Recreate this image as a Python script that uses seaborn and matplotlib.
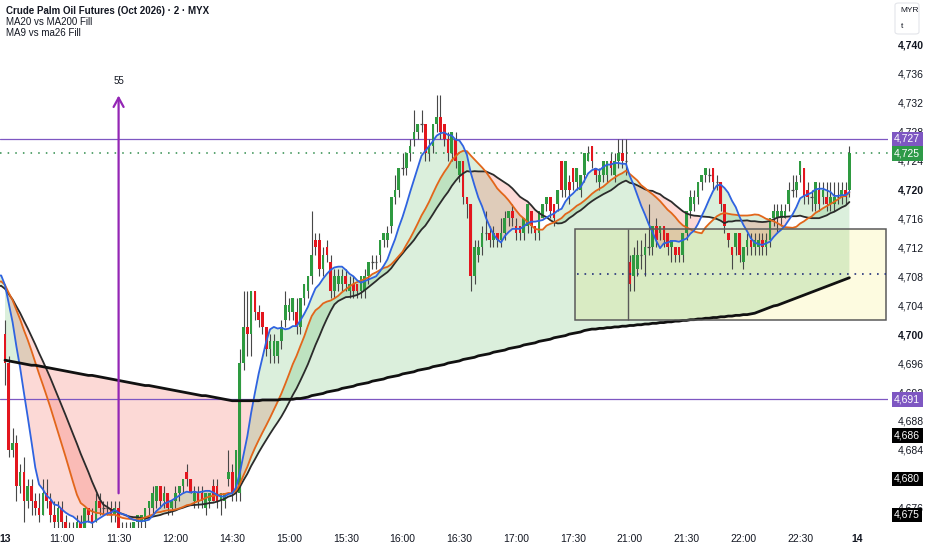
import numpy as np
import pandas as pd
import matplotlib
matplotlib.use("Agg")
import matplotlib.pyplot as plt
import matplotlib.transforms as mtransforms
from matplotlib.patches import Rectangle, FancyBboxPatch
import seaborn as sns

# 2-minute bars of the 13th: 10:30-12:30, 14:30-18:00, 21:00-23:00 (breaks removed)
opens = [
    4700, 4696, 4684, 4685, 4679, 4681, 4677, 4679, 4677, 4676,
    4675, 4678, 4677, 4675, 4674, 4676, 4674, 4673, 4673, 4673,
    4674, 4673, 4676, 4675, 4674, 4677, 4676, 4676, 4676, 4675,
    4676, 4673, 4673, 4673, 4673, 4674, 4674, 4674, 4676, 4676,
    4677, 4679, 4677, 4678, 4676, 4677, 4678, 4679, 4681, 4680,
    4677, 4678, 4678, 4676, 4677, 4679, 4679, 4677, 4677, 4680,
    4681, 4678, 4678, 4696, 4701, 4700, 4706, 4703, 4703, 4701,
    4698, 4697, 4697, 4699, 4702, 4703, 4703, 4703, 4701, 4705,
    4706, 4708, 4713, 4713, 4709, 4712, 4710, 4706, 4707, 4707,
    4708, 4706, 4707, 4707, 4706, 4706, 4708, 4710, 4710, 4711,
    4713, 4713, 4715, 4719, 4720, 4723, 4723, 4725, 4727, 4728,
    4729, 4729, 4725, 4726, 4729, 4730, 4729, 4727, 4725, 4727,
    4722, 4724, 4719, 4718, 4708, 4711, 4712, 4714, 4714, 4713,
    4714, 4713, 4714, 4716, 4717, 4715, 4715, 4714, 4715, 4717,
    4715, 4714, 4716, 4718, 4719, 4718, 4718, 4724, 4720, 4721,
    4723, 4721, 4720, 4722, 4724, 4726, 4723, 4721, 4722, 4722,
    4724, 4722, 4724, 4725, 4724, 4710, 4708, 4709, 4711, 4711,
    4712, 4712, 4715, 4714, 4715, 4714, 4712, 4712, 4712, 4711,
    4714, 4717, 4718, 4719, 4721, 4722, 4722, 4723, 4721, 4721,
    4718, 4714, 4712, 4712, 4714, 4710, 4712, 4713, 4712, 4712,
    4713, 4712, 4713, 4716, 4716, 4716, 4716, 4718, 4720, 4720,
    4722, 4723, 4720, 4719, 4718, 4720, 4719, 4719, 4718, 4718,
    4719, 4719, 4720, 4720,
]
highs = [
    4702, 4697, 4687, 4686, 4682, 4683, 4680, 4680, 4678, 4678,
    4680, 4680, 4678, 4677, 4677, 4677, 4675, 4674, 4674, 4675,
    4675, 4676, 4676, 4676, 4678, 4678, 4677, 4677, 4677, 4677,
    4677, 4674, 4674, 4674, 4674, 4675, 4675, 4676, 4677, 4679,
    4679, 4679, 4679, 4678, 4677, 4679, 4679, 4680, 4682, 4680,
    4679, 4679, 4679, 4678, 4678, 4680, 4680, 4678, 4678, 4684,
    4682, 4684, 4698, 4706, 4706, 4706, 4706, 4704, 4703, 4701,
    4700, 4700, 4699, 4702, 4706, 4705, 4705, 4705, 4705, 4707,
    4708, 4717, 4714, 4714, 4712, 4713, 4711, 4709, 4709, 4709,
    4709, 4708, 4708, 4707, 4708, 4709, 4710, 4711, 4711, 4713,
    4714, 4715, 4719, 4722, 4723, 4725, 4725, 4727, 4731, 4729,
    4731, 4729, 4727, 4729, 4733, 4733, 4729, 4728, 4728, 4728,
    4724, 4724, 4719, 4718, 4713, 4713, 4715, 4717, 4715, 4715,
    4714, 4716, 4717, 4717, 4718, 4716, 4715, 4716, 4718, 4717,
    4715, 4717, 4718, 4719, 4719, 4718, 4720, 4724, 4724, 4722,
    4723, 4723, 4722, 4725, 4726, 4726, 4723, 4723, 4724, 4724,
    4725, 4725, 4727, 4727, 4727, 4711, 4712, 4713, 4713, 4714,
    4718, 4715, 4716, 4715, 4715, 4714, 4713, 4712, 4712, 4714,
    4717, 4720, 4720, 4721, 4722, 4723, 4723, 4723, 4722, 4721,
    4718, 4714, 4712, 4714, 4714, 4712, 4714, 4714, 4714, 4714,
    4714, 4714, 4716, 4718, 4718, 4718, 4718, 4721, 4722, 4722,
    4724, 4723, 4721, 4720, 4721, 4721, 4721, 4721, 4721, 4721,
    4721, 4721, 4721, 4726,
]
lows = [
    4693, 4683, 4683, 4677, 4678, 4674, 4676, 4675, 4675, 4674,
    4675, 4676, 4674, 4673, 4673, 4673, 4672, 4672, 4672, 4672,
    4672, 4672, 4674, 4673, 4674, 4675, 4675, 4675, 4674, 4674,
    4672, 4672, 4672, 4672, 4672, 4673, 4673, 4673, 4675, 4675,
    4676, 4676, 4676, 4675, 4675, 4676, 4677, 4678, 4679, 4678,
    4676, 4676, 4676, 4675, 4676, 4677, 4676, 4675, 4676, 4679,
    4677, 4677, 4677, 4695, 4697, 4697, 4702, 4701, 4700, 4697,
    4696, 4696, 4696, 4698, 4701, 4702, 4702, 4700, 4700, 4704,
    4705, 4707, 4711, 4708, 4708, 4710, 4705, 4705, 4706, 4706,
    4706, 4705, 4705, 4705, 4705, 4705, 4707, 4709, 4709, 4710,
    4712, 4712, 4714, 4718, 4719, 4722, 4722, 4724, 4726, 4727,
    4728, 4724, 4724, 4725, 4728, 4727, 4726, 4724, 4724, 4723,
    4721, 4718, 4716, 4706, 4707, 4710, 4711, 4713, 4712, 4712,
    4712, 4712, 4713, 4715, 4715, 4713, 4713, 4713, 4714, 4714,
    4713, 4713, 4716, 4717, 4716, 4715, 4717, 4719, 4719, 4718,
    4720, 4720, 4719, 4721, 4724, 4723, 4721, 4720, 4721, 4721,
    4722, 4721, 4723, 4723, 4722, 4706, 4706, 4708, 4709, 4708,
    4711, 4711, 4712, 4713, 4712, 4711, 4710, 4710, 4710, 4710,
    4713, 4716, 4717, 4718, 4720, 4721, 4721, 4720, 4720, 4717,
    4714, 4712, 4709, 4711, 4710, 4709, 4711, 4711, 4711, 4711,
    4711, 4711, 4712, 4715, 4714, 4715, 4716, 4717, 4719, 4719,
    4721, 4718, 4718, 4717, 4717, 4717, 4718, 4717, 4717, 4717,
    4718, 4718, 4718, 4719,
]
closes = [
    4696, 4684, 4685, 4679, 4681, 4677, 4679, 4677, 4676, 4675,
    4678, 4677, 4675, 4674, 4676, 4674, 4673, 4673, 4673, 4674,
    4673, 4676, 4675, 4674, 4677, 4676, 4676, 4676, 4675, 4676,
    4673, 4673, 4673, 4673, 4674, 4675, 4675, 4676, 4677, 4678,
    4679, 4677, 4678, 4676, 4677, 4678, 4679, 4680, 4680, 4678,
    4678, 4677, 4677, 4678, 4678, 4677, 4677, 4678, 4678, 4681,
    4678, 4684, 4696, 4701, 4700, 4706, 4703, 4702, 4701, 4698,
    4699, 4699, 4699, 4701, 4704, 4704, 4705, 4701, 4705, 4707,
    4708, 4711, 4712, 4709, 4711, 4711, 4706, 4708, 4708, 4708,
    4707, 4707, 4706, 4706, 4708, 4708, 4710, 4710, 4710, 4713,
    4714, 4714, 4719, 4720, 4723, 4723, 4725, 4726, 4728, 4729,
    4729, 4725, 4726, 4729, 4730, 4728, 4727, 4725, 4728, 4724,
    4724, 4719, 4718, 4708, 4712, 4712, 4714, 4714, 4713, 4714,
    4713, 4714, 4716, 4717, 4716, 4714, 4714, 4716, 4718, 4715,
    4714, 4717, 4718, 4719, 4717, 4716, 4720, 4720, 4724, 4720,
    4721, 4723, 4722, 4725, 4725, 4724, 4722, 4722, 4724, 4724,
    4723, 4724, 4725, 4724, 4724, 4707, 4711, 4711, 4711, 4712,
    4712, 4715, 4713, 4715, 4713, 4712, 4713, 4711, 4711, 4714,
    4717, 4719, 4719, 4721, 4722, 4723, 4722, 4721, 4721, 4718,
    4715, 4713, 4711, 4714, 4711, 4712, 4713, 4712, 4713, 4713,
    4712, 4713, 4716, 4717, 4717, 4717, 4717, 4720, 4720, 4721,
    4724, 4719, 4719, 4719, 4721, 4718, 4720, 4718, 4719, 4719,
    4719, 4720, 4719, 4725,
]
# closes of the previous session, only used to seed the short averages
prev_closes = [4703, 4704, 4704, 4705, 4705, 4706, 4706, 4705, 4706, 4707,
               4707, 4706, 4707, 4708, 4707, 4708, 4708, 4707, 4708, 4709,
               4708, 4708, 4709, 4708, 4708]
# MA200 (needs history that is not on screen)
ma200 = [
    4696.4, 4696.3, 4696.2, 4696.1, 4696.0, 4695.9, 4695.8, 4695.7, 4695.7, 4695.6,
    4695.5, 4695.4, 4695.3, 4695.2, 4695.1, 4695.0, 4694.9, 4694.8, 4694.7, 4694.6,
    4694.5, 4694.4, 4694.3, 4694.3, 4694.2, 4694.1, 4694.0, 4693.9, 4693.8, 4693.7,
    4693.6, 4693.5, 4693.4, 4693.3, 4693.2, 4693.1, 4693.0, 4692.9, 4692.9, 4692.8,
    4692.7, 4692.6, 4692.5, 4692.4, 4692.3, 4692.2, 4692.1, 4692.0, 4691.9, 4691.8,
    4691.7, 4691.6, 4691.5, 4691.5, 4691.4, 4691.3, 4691.2, 4691.1, 4691.0, 4690.9,
    4690.8, 4690.8, 4690.8, 4690.8, 4690.8, 4690.8, 4690.8, 4690.8, 4690.9, 4690.9,
    4690.9, 4690.9, 4690.9, 4691.0, 4691.0, 4691.0, 4691.0, 4691.1, 4691.1, 4691.2,
    4691.3, 4691.5, 4691.6, 4691.7, 4691.8, 4692.0, 4692.1, 4692.2, 4692.3, 4692.5,
    4692.6, 4692.7, 4692.8, 4693.0, 4693.1, 4693.2, 4693.3, 4693.5, 4693.6, 4693.7,
    4693.8, 4694.0, 4694.1, 4694.2, 4694.3, 4694.5, 4694.6, 4694.7, 4694.8, 4695.0,
    4695.1, 4695.2, 4695.3, 4695.5, 4695.6, 4695.7, 4695.8, 4696.0, 4696.1, 4696.2,
    4696.3, 4696.5, 4696.6, 4696.7, 4696.8, 4697.0, 4697.1, 4697.2, 4697.3, 4697.5,
    4697.6, 4697.7, 4697.8, 4698.0, 4698.1, 4698.2, 4698.3, 4698.5, 4698.6, 4698.7,
    4698.8, 4699.0, 4699.1, 4699.2, 4699.3, 4699.5, 4699.6, 4699.7, 4699.8, 4700.0,
    4700.1, 4700.2, 4700.3, 4700.5, 4700.6, 4700.7, 4700.7, 4700.8, 4700.8, 4700.9,
    4700.9, 4701.0, 4701.0, 4701.1, 4701.1, 4701.2, 4701.2, 4701.3, 4701.3, 4701.4,
    4701.4, 4701.5, 4701.5, 4701.6, 4701.6, 4701.7, 4701.7, 4701.8, 4701.8, 4701.9,
    4701.9, 4702.0, 4702.0, 4702.1, 4702.1, 4702.2, 4702.2, 4702.3, 4702.3, 4702.4,
    4702.4, 4702.5, 4702.5, 4702.6, 4702.6, 4702.7, 4702.7, 4702.8, 4702.9, 4703.1,
    4703.3, 4703.5, 4703.7, 4703.9, 4704.0, 4704.2, 4704.4, 4704.6, 4704.8, 4705.0,
    4705.2, 4705.4, 4705.6, 4705.8, 4706.0, 4706.2, 4706.4, 4706.6, 4706.8, 4707.0,
    4707.2, 4707.4, 4707.6, 4707.8,
]

tick_bars = [0, 15, 30, 45, 60, 75, 90, 105, 120, 135, 150, 165, 180, 195, 210, 225]
tick_labels = ["13", "11:00", "11:30", "12:00", "14:30", "15:00", "15:30", "16:00",
               "16:30", "17:00", "17:30", "21:00", "21:30", "22:00", "22:30", "14"]
price_ticks = list(range(4676, 4741, 4))

level_prices = [4727, 4691]
last_price = 4725
scale_marks = [4686, 4680, 4675]

# drawings
measure_bar, measure_from, measure_to = 30, 4678, 4733
box_bars = (150.5, 232.6)
box_prices = (4702.0, 4714.6)
box_split_bar = 164.5

GREEN, RED = "#2e9a40", "#e3161e"
FILL_UP, FILL_DN = "#4caf50", "#f44336"
PURPLE = "#7e57c2"
INK = "#131722"

sns.set_theme(style="white")
plt.rcParams["font.family"] = ["Liberation Sans", "DejaVu Sans"]

fig = plt.figure(figsize=(9.32, 5.5), dpi=100)
ax = fig.add_axes([0, 22 / 550, 888 / 932, 528 / 550])

x = np.arange(len(closes))
o, h, l, c = (np.array(v, dtype=float) for v in (opens, highs, lows, closes))

# moving averages
all_close = pd.Series(prev_closes + closes, dtype=float)
x_all = np.arange(-len(prev_closes), len(closes))
ma9 = all_close.rolling(9, min_periods=1).mean().values
ma20 = all_close.rolling(20, min_periods=1).mean().values
ma26 = all_close.rolling(26, min_periods=1).mean().values
m200 = np.array(ma200)
ma20_today = ma20[len(prev_closes):]

# fills
ax.fill_between(x, ma20_today, m200, where=ma20_today >= m200, interpolate=True,
                color=FILL_UP, alpha=0.2, lw=0, zorder=1)
ax.fill_between(x, ma20_today, m200, where=ma20_today < m200, interpolate=True,
                color=FILL_DN, alpha=0.2, lw=0, zorder=1)
ax.fill_between(x_all, ma9, ma26, where=ma9 >= ma26, interpolate=True,
                color=FILL_UP, alpha=0.2, lw=0, zorder=1)
ax.fill_between(x_all, ma9, ma26, where=ma9 < ma26, interpolate=True,
                color=FILL_DN, alpha=0.2, lw=0, zorder=1)

# range box
ax.add_patch(Rectangle((box_bars[0], box_prices[0]), box_bars[1] - box_bars[0],
                       box_prices[1] - box_prices[0], facecolor="#fdfbe0",
                       edgecolor="none", zorder=0.5))
ax.add_patch(Rectangle((box_bars[0], box_prices[0]), box_bars[1] - box_bars[0],
                       box_prices[1] - box_prices[0], facecolor="none",
                       edgecolor="#5a5a5a", lw=1.1, zorder=6))
ax.hlines(np.mean(box_prices), box_bars[0] + 0.5, box_bars[1], colors="#23307a",
          linestyles=(0, (1, 3.5)), lw=1.2, zorder=6)
ax.vlines(box_split_bar, box_prices[0], box_prices[1], colors="#5a5a5a", lw=1.0, zorder=6)

# horizontal levels
for lv in level_prices:
    ax.axhline(lv, color=PURPLE, lw=0.9, zorder=2)
ax.axhline(last_price, color="#2e8b4a", lw=1.1, ls=(0, (1, 4)), zorder=2)

# candles
ax.vlines(x, l, h, colors="#474747", lw=0.8, zorder=3)
up = c > o
dn = c < o
flat = c == o
ax.bar(x[up], (c - o)[up], bottom=o[up], width=0.7, color=GREEN, lw=0, zorder=4)
ax.bar(x[dn], (o - c)[dn], bottom=c[dn], width=0.7, color=RED, lw=0, zorder=4)
ax.hlines(c[flat], x[flat] - 0.35, x[flat] + 0.35, colors="#474747", lw=0.9, zorder=4)

# MA lines
keep = x_all >= -2
sns.lineplot(x=x_all[keep], y=ma26[keep], color="#2b2b2b", lw=1.3, ax=ax, zorder=5)
sns.lineplot(x=x_all[keep], y=ma20[keep], color="#e2661b", lw=1.3, ax=ax, zorder=5)
sns.lineplot(x=x_all[keep], y=ma9[keep], color="#2f63e0", lw=1.3, ax=ax, zorder=5)
sns.lineplot(x=x, y=m200, color="#111111", lw=2.0, ax=ax, zorder=5)

# measure arrow
ax.annotate("", xy=(measure_bar, measure_to), xytext=(measure_bar, measure_from),
            arrowprops=dict(arrowstyle="->,head_length=0.55,head_width=0.3",
                            color="#9426b5", lw=1.6, shrinkA=0, shrinkB=0), zorder=7)
ax.text(measure_bar, measure_to + 2.0, str(measure_to - measure_from), ha="center",
        va="center", fontsize=7, color=INK, zorder=7)

# axes
ax.set_xlim(-1.32, 233.2)
ax.set_ylim(4673.2, 4746.2)
for s in ax.spines.values():
    s.set_visible(False)
ax.grid(False)
ax.set_xlabel("")
ax.set_ylabel("")
ax.set_xticks(tick_bars)
ax.set_xticklabels(tick_labels)
ax.tick_params(axis="x", length=0, pad=4, labelsize=7.5, colors=INK)
for t in ax.get_xticklabels():
    if ":" not in t.get_text():
        t.set_fontweight("bold")

# price scale: plain ticks, skipping those fully hidden under a tag
tags = [(lv, PURPLE) for lv in level_prices] + [(last_price, "#2e9a48")] + \
       [(m, "#000000") for m in scale_marks]
hidden = {v for v, _ in tags}
ax.yaxis.tick_right()
ax.set_yticks(price_ticks)
ax.set_yticklabels(["" if v in hidden else f"{v:,}" for v in price_ticks])
ax.tick_params(axis="y", length=0, pad=7, labelsize=7.5, colors=INK)
for t in ax.get_yticklabels():
    if t.get_text() in ("4,740", "4,720", "4,700"):
        t.set_fontweight("bold")

tr = mtransforms.blended_transform_factory(ax.transAxes, ax.transData)
for val, col in tags:
    ax.text(1.007, val, f"{val:,}", transform=tr, ha="left", va="center",
            fontsize=7.5, color="white", clip_on=False, zorder=20,
            bbox=dict(boxstyle="square,pad=0.22", fc=col, ec="none"))

# header
fig.text(6 / 932, 1 - 11 / 550, "Crude Palm Oil Futures (Oct 2026) · 2 · MYX",
         fontsize=7, fontweight="bold", color=INK, va="center")
fig.text(6 / 932, 1 - 22 / 550, "MA20 vs MA200 Fill", fontsize=7, color=INK, va="center")
fig.text(6 / 932, 1 - 33 / 550, "MA9 vs ma26 Fill", fontsize=7, color=INK, va="center")

fig.patches.append(FancyBboxPatch((895 / 932, 1 - 34 / 550), 24 / 932, 31 / 550,
                                  boxstyle="round,pad=0,rounding_size=0.004",
                                  transform=fig.transFigure, fc="white",
                                  ec="#e3e5ea", lw=0.8))
fig.text(900 / 932, 1 - 11 / 550, "MYR", fontsize=6, color=INK, va="center")
fig.text(901 / 932, 1 - 27 / 550, "t", fontsize=6, color=INK, va="center")

fig.savefig("out.png", dpi=100)
